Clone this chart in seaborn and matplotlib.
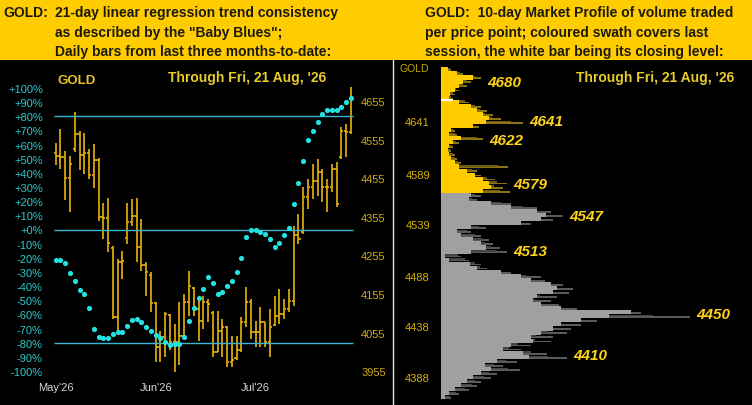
import numpy as np
import pandas as pd
import seaborn as sns
import matplotlib.pyplot as plt
from matplotlib.patches import Rectangle
from matplotlib.lines import Line2D

# ---- left panel: daily bars (price) and "Baby Blues" trend consistency (%) ----
highs = [4547, 4584, 4527, 4514, 4628, 4579, 4573, 4532, 4545, 4508,
         4391, 4404, 4280, 4246, 4267, 4391, 4402, 4404, 4350, 4238,
         4212, 4134, 4058, 4108, 4103, 4077, 4134, 4155, 4214, 4173,
         4147, 4149, 4142, 4110, 4110, 4090, 4071, 4045, 4045, 4095,
         4173, 4142, 4084, 4121, 4082, 4116, 4149, 4168, 4142, 4168,
         4332, 4363, 4433, 4454, 4493, 4506, 4480, 4454, 4493, 4498,
         4589, 4597, 4693]
lows = [4490, 4480, 4399, 4368, 4524, 4477, 4467, 4454, 4430, 4345,
        4298, 4264, 4090, 4058, 4194, 4285, 4332, 4238, 4214, 4149,
        4108, 3978, 3978, 3993, 4011, 3954, 3972, 4038, 4097, 4097,
        4032, 4064, 4082, 3993, 4004, 3993, 3965, 3965, 3985, 4004,
        4069, 4038, 4019, 4019, 4019, 3993, 4071, 4077, 4090, 4108,
        4123, 4285, 4311, 4376, 4402, 4410, 4394, 4368, 4420, 4381,
        4506, 4511, 4571]
opens = [4520, 4514, 4511, 4456, 4530, 4571, 4516, 4521, 4464, 4503,
         4355, 4352, 4275, 4095, 4238, 4300, 4342, 4358, 4277, 4230,
         4205, 4131, 4017, 4043, 4100, 4030, 4030, 4045, 4134, 4170,
         4116, 4084, 4134, 4105, 4006, 4058, 4069, 3980, 3990, 4011,
         4082, 4134, 4056, 4056, 4082, 4030, 4075, 4097, 4103, 4116,
         4136, 4308, 4315, 4407, 4433, 4449, 4472, 4433, 4433, 4480,
         4510, 4579, 4576]
closes = [4514, 4511, 4456, 4493, 4571, 4516, 4521, 4464, 4503, 4355,
          4352, 4287, 4095, 4238, 4240, 4342, 4358, 4277, 4230, 4212,
          4131, 4017, 4043, 4103, 4030, 4030, 4045, 4134, 4175, 4116,
          4084, 4134, 4129, 4006, 4058, 4069, 3980, 3985, 4011, 4082,
          4134, 4056, 4056, 4082, 4030, 4069, 4097, 4103, 4116, 4136,
          4308, 4298, 4407, 4433, 4449, 4472, 4433, 4433, 4480, 4389,
          4579, 4576, 4662]
baby_blues = [-21.5, -21.5, -23.6, -30.4, -36.6, -42.7, -45.8, -55.5, -70.6, -75.8,
              -76.7, -76.7, -73.9, -72.2, -72.2, -68.4, -64.2, -63.5, -65.4, -68.9,
              -71.5, -74.3, -76.9, -79.5, -81.9, -81.2, -80.9, -76.0, -64.4, -55.7,
              -48.6, -42.0, -33.7, -37.8, -45.8, -44.1, -39.6, -36.3, -30.0, -20.1,
              -5.2, 0.0, -0.5, -1.7, -3.5, -6.6, -12.5, -9.4, -4.2, 0.9,
              17.9, 32.9, 48.7, 63.3, 69.9, 76.0, 81.6, 84.5, 84.5, 84.7,
              86.4, 90.4, 92.9]
months = ["May'26", "Jun'26", "Jul'26"]
month_start = [0, 21, 42]
pct_ticks = list(range(-100, 101, 10))
price_ticks = [3955, 4055, 4155, 4255, 4355, 4455, 4555, 4655]
ref_levels = [80, 0, -80]

# ---- right panel: 10-day market profile ----
profile_price = np.arange(4692, 4364, -4)
profile_vol = [7, 16, 32, 22, 18, 14, 9, 8, 18, 30,
               36, 42, 48, 45, 32, 10, 8, 20, 12, 8,
               7, 8, 10, 14, 18, 26, 34, 42, 48, 50,
               42, 30, 28, 50, 70, 96, 105, 100, 80, 30,
               16, 20, 32, 40, 45, 30, 4, 8, 29, 36,
               60, 80, 90, 110, 116, 112, 96, 92, 100, 120,
               190, 168, 140, 120, 112, 100, 90, 92, 70, 62,
               82, 88, 56, 44, 50, 40, 32, 26, 20, 14,
               8, 4]
profile_peak = [10, 22, 40, 30, 26, 18, 14, 12, 28, 40,
                46, 52, 60, 82, 38, 14, 16, 42, 18, 12,
                10, 14, 16, 20, 67, 36, 40, 54, 66, 62,
                69, 40, 36, 70, 96, 110, 122, 112, 90, 45,
                30, 40, 48, 52, 59, 66, 20, 28, 40, 46,
                70, 100, 104, 122, 132, 128, 116, 110, 118, 136,
                200, 249, 156, 140, 130, 126, 112, 110, 90, 80,
                106, 126, 76, 62, 79, 56, 50, 40, 36, 28,
                18, 10]
profile_ticks = [4641, 4589, 4539, 4488, 4438, 4388]
node_labels = [4680, 4641, 4622, 4579, 4547, 4513, 4450, 4410]
session_low = 4570
session_close = 4662

BANNER = "#FFCC00"
CYAN = "#22E2E2"
LINE = "#3CB4D6"
BAR = "#E8B40A"
W, H = 752, 406


def px_box(x0, y0, x1, y1):
    return [x0 / W, 1 - y1 / H, (x1 - x0) / W, (y1 - y0) / H]


sns.set_theme(style="dark", rc={"axes.facecolor": "black", "figure.facecolor": "black"})
plt.rcParams["font.family"] = ["Liberation Sans", "DejaVu Sans"]

fig = plt.figure(figsize=(W / 100, H / 100), dpi=100, facecolor="black")
fig.add_artist(Rectangle((0, 1 - 61 / H), 1, 61 / H, transform=fig.transFigure,
                         facecolor=BANNER, edgecolor="none", zorder=0))
fig.add_artist(Line2D([393 / W, 393 / W], [0, 1 - 61 / H], transform=fig.transFigure,
                      color="#E6E6E6", lw=1))

# banner text
tkw = dict(size=10, weight="bold", color="#1C1A10", va="baseline")
fig.text(3 / W, 1 - 17 / H, "GOLD:", **tkw)
fig.text(55 / W, 1 - 17 / H, "21-day linear regression trend consistency", **tkw)
fig.text(55 / W, 1 - 36.5 / H, 'as described by the "Baby Blues";', **tkw)
fig.text(55 / W, 1 - 56 / H, "Daily bars from last three months-to-date:", **tkw)
fig.text(425 / W, 1 - 17 / H, "GOLD:  10-day Market Profile of volume traded", **tkw)
fig.text(425 / W, 1 - 36.5 / H, "per price point; coloured swath covers last", **tkw)
fig.text(425 / W, 1 - 56 / H, "session, the white bar being its closing level:", **tkw)

# ---- left panel ----
x_left, x_right, y_top, y_bot = 47, 357, 80, 380
x0_px, step_px = 55.7, 4.76
ax = fig.add_axes(px_box(x_left, y_top, x_right, y_bot))
ax2 = ax.twinx()
ax.set_zorder(ax2.get_zorder() + 1)
ax.patch.set_visible(False)
ax2.patch.set_facecolor("black")

pct_per_px = 200 / 283.0
pct_top = 100 + (89 - y_top) * pct_per_px
pct_bot = -100 - (y_bot - 372) * pct_per_px
ax.set_ylim(pct_bot, pct_top)
ax.set_xlim((x_left - x0_px) / step_px, (x_right - x0_px) / step_px)
price_per_pct = 3.669
ax2.set_ylim(4322.4 + price_per_pct * pct_bot, 4322.4 + price_per_pct * pct_top)

bars = pd.DataFrame({"open": opens, "high": highs, "low": lows, "close": closes})
idx = np.arange(len(bars))
ax2.vlines(idx, bars["low"], bars["high"], color=BAR, lw=1.2)
ax2.hlines(bars["open"], idx - 0.45, idx, color=BAR, lw=1.2)
ax2.hlines(bars["close"], idx, idx + 0.45, color=BAR, lw=1.2)

ax.hlines(ref_levels, -0.4, len(bars) - 0.6, color=LINE, lw=1.0)
dots = pd.DataFrame({"day": idx, "pct": baby_blues})
sns.scatterplot(data=dots, x="day", y="pct", ax=ax, color=CYAN, s=14,
                linewidth=0, zorder=5, legend=False)

ax.set_yticks(pct_ticks, [f"{v:+d}%" for v in pct_ticks])
ax.set_xticks(month_start, months)
ax.set_xlabel("")
ax.set_ylabel("")
ax.tick_params(axis="y", length=0, pad=3, labelsize=8, labelcolor="#2EC8C8")
ax.tick_params(axis="x", length=0, pad=2.5, labelsize=8, labelcolor="#D6D6D6")
ax2.set_yticks(price_ticks, [str(v) for v in price_ticks])
ax2.tick_params(axis="y", length=0, pad=3, labelsize=8, labelcolor="#CCAA14")
for a in (ax, ax2):
    a.grid(False)
    for s in a.spines.values():
        s.set_visible(False)

fig.text(58 / W, 1 - 81 / H, "GOLD", size=9.5, weight="bold", color="#E6C229", va="center")
fig.text(168 / W, 1 - 78 / H, "Through Fri, 21 Aug, '26", size=10, weight="bold",
         color="#E8CC2A", va="center")

# ---- right panel ----
ax3 = fig.add_axes(px_box(441, 62, 752, 406))
ax3.set_facecolor("black")
ax3.set_xlim(0, 311)
ax3.set_ylim(4641 - 284 * 0.988, 4641 + 60 * 0.988)
prof = pd.DataFrame({"price": profile_price, "vol": profile_vol, "peak": profile_peak})
today = prof["price"] >= session_low
# darker strands reaching out to each row's peak, then the solid body
ax3.barh(prof["price"] - 0.8, prof["peak"], height=1.8, linewidth=0,
         color=np.where(today, "#8A7414", "#5A5A5A"))
ax3.barh(prof["price"] + 0.6, prof["peak"] * 0.85, height=1.4, linewidth=0,
         color=np.where(today, "#6E5C10", "#444444"))
ax3.barh(prof["price"], prof["vol"], height=4.05, linewidth=0,
         color=np.where(today, BANNER, "#A0A0A0"))
close_row = prof.loc[(prof["price"] - session_close).abs().idxmin()]
ax3.barh([session_close], [close_row["peak"]], height=1.8, color="white", linewidth=0)

for p in node_labels:
    near = prof.loc[(prof["price"] - p).abs() <= 4, "peak"].max()
    ax3.text(near + 6, p, str(p), size=11, weight="bold", style="italic",
             color="#FFD21A", va="center", ha="left")

ax3.set_yticks(profile_ticks, [str(v) for v in profile_ticks])
ax3.set_xticks([])
ax3.tick_params(axis="y", length=0, pad=8, labelsize=8, labelcolor="#D4B400")
ax3.grid(False)
for s in ax3.spines.values():
    s.set_visible(False)

fig.text(400 / W, 1 - 69 / H, "GOLD", size=7.5, color="#C8A800", va="center")
fig.text(576 / W, 1 - 78 / H, "Through Fri, 21 Aug, '26", size=10, weight="bold",
         color="#E8CC2A", va="center")

fig.savefig("out.png", dpi=100, facecolor="black")
